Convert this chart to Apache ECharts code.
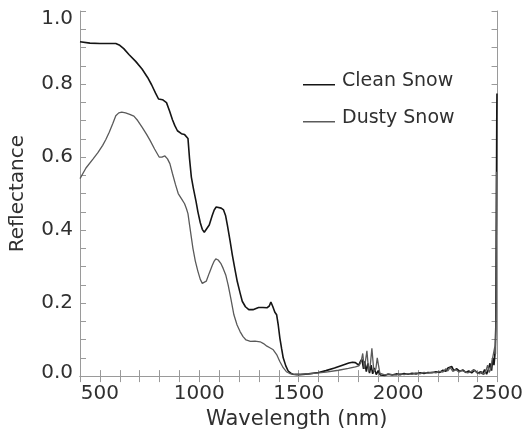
<!DOCTYPE html>
<html>
<head>
<meta charset="utf-8">
<script src="https://cdn.jsdelivr.net/npm/echarts@6/dist/echarts.min.js"></script>
<style>html,body{margin:0;padding:0;background:#fff;}#c{width:526px;height:435px;}</style>
</head>
<body>
<div id="c"></div>
<script>
var seriesNames = ['Clean Snow', 'Dusty Snow'];
var xTickLabels = [500, 1000, 1500, 2000, 2500];
var yTickLabels = [0.0, 0.2, 0.4, 0.6, 0.8, 1.0];

var cleanWl = [400,450,500,550,580,600,620,646,680,712,740,760,780,795,805,815,824,835,850,865,877,890,910,925,935,943,951,960,970,984,993,1005,1015,1025,1035,1050,1065,1075,1085,1095,1110,1122,1132,1141,1155,1166,1180,1191,1205,1216,1232,1249,1270,1298,1320,1340,1352,1360,1370,1380,1389,1397,1405,1414,1422,1435,1447,1460,1471,1490,1505,1550,1600,1637,1680,1720,1752,1770,1785,1795,1802,1810,1818,1826,1832,1840,1848,1856,1864,1872,1880,1890,1900,1910,1920,1935,1950,1970,1990,2010,2030,2050,2070,2090,2110,2130,2150,2170,2190,2210,2225,2240,2250,2260,2270,2280,2295,2310,2325,2340,2355,2370,2385,2400,2415,2425,2435,2445,2455,2462,2470,2476,2482,2487,2491,2494,2496,2497];
var cleanR = [0.916,0.912,0.911,0.911,0.911,0.906,0.897,0.881,0.862,0.841,0.818,0.798,0.775,0.759,0.754,0.757,0.759,0.749,0.727,0.702,0.686,0.672,0.664,0.662,0.665,0.651,0.595,0.545,0.515,0.477,0.450,0.420,0.402,0.394,0.398,0.414,0.440,0.455,0.463,0.464,0.460,0.455,0.440,0.414,0.370,0.332,0.290,0.259,0.228,0.205,0.190,0.182,0.182,0.188,0.188,0.187,0.192,0.203,0.190,0.175,0.168,0.140,0.105,0.075,0.050,0.028,0.014,0.008,0.005,0.004,0.004,0.006,0.010,0.015,0.022,0.030,0.036,0.038,0.037,0.032,0.030,0.040,0.046,0.020,0.040,0.012,0.035,0.008,0.030,0.006,0.022,0.004,0.015,0.003,0.007,0.002,0.005,0.003,0.006,0.004,0.007,0.005,0.008,0.006,0.009,0.007,0.010,0.009,0.012,0.010,0.016,0.013,0.022,0.017,0.026,0.015,0.020,0.013,0.017,0.010,0.014,0.009,0.016,0.008,0.012,0.006,0.018,0.005,0.020,0.035,0.015,0.050,0.030,0.060,0.130,0.450,0.700,0.774];

var dustyWl = [400,430,466,490,514,530,547,565,580,595,610,629,650,671,690,712,735,753,775,798,812,827,840,852,865,880,894,910,926,935,943,951,960,968,980,993,1005,1015,1023,1035,1050,1065,1075,1083,1095,1108,1120,1133,1145,1158,1174,1190,1205,1220,1235,1257,1280,1306,1323,1340,1357,1372,1389,1405,1422,1438,1455,1480,1505,1550,1600,1637,1700,1750,1785,1802,1810,1815,1822,1830,1836,1843,1852,1860,1868,1878,1888,1895,1901,1908,1918,1935,1950,1970,1990,2010,2030,2050,2070,2090,2110,2130,2150,2170,2190,2210,2225,2240,2250,2262,2275,2290,2305,2320,2335,2350,2365,2380,2395,2410,2420,2430,2440,2450,2458,2466,2472,2480,2486,2490,2493,2495];
var dustyR = [0.541,0.570,0.595,0.612,0.632,0.648,0.668,0.692,0.713,0.721,0.723,0.721,0.717,0.712,0.700,0.682,0.662,0.645,0.622,0.600,0.600,0.603,0.595,0.582,0.555,0.525,0.500,0.486,0.472,0.459,0.445,0.414,0.380,0.350,0.315,0.287,0.265,0.254,0.250,0.260,0.282,0.303,0.315,0.321,0.318,0.309,0.295,0.277,0.250,0.214,0.168,0.140,0.122,0.108,0.099,0.095,0.096,0.094,0.089,0.082,0.077,0.072,0.059,0.040,0.023,0.012,0.007,0.005,0.005,0.006,0.009,0.011,0.016,0.021,0.025,0.028,0.035,0.043,0.062,0.020,0.015,0.069,0.012,0.030,0.076,0.012,0.020,0.050,0.045,0.008,0.004,0.003,0.006,0.004,0.003,0.006,0.004,0.007,0.005,0.009,0.006,0.010,0.008,0.011,0.009,0.013,0.011,0.020,0.014,0.024,0.013,0.018,0.011,0.015,0.012,0.009,0.012,0.018,0.010,0.006,0.013,0.004,0.012,0.030,0.010,0.020,0.040,0.045,0.080,0.060,0.200,0.560];

function pairs(xs, ys) { return xs.map(function (x, i) { return [x, ys[i]]; }); }

var FONT = 'DejaVu Sans';
var WEIGHT = 'normal';
var axisColor = '#9a9a9a';
var textColor = '#303030';

function xAx(pos, show) {
  return {
    type: 'value', position: pos, min: 400, max: 2500, interval: 100,
    axisLine: { show: true, lineStyle: { color: axisColor, width: 1 } },
    axisTick: { show: true, inside: true, length: 6, lineStyle: { color: axisColor } },
    splitLine: { show: false },
    axisLabel: show ? {
      show: true, margin: 8, color: textColor, fontFamily: FONT, fontWeight: WEIGHT, fontSize: 20,
      formatter: function (v) { return xTickLabels.indexOf(Math.round(v)) >= 0 ? String(Math.round(v)) : ''; }
    } : { show: false },
    name: show ? 'Wavelength (nm)' : '', nameLocation: 'middle', nameGap: 31,
    nameTextStyle: { color: textColor, fontFamily: FONT, fontWeight: WEIGHT, fontSize: 21, padding: [0, 0, 0, 16] }
  };
}
function yAx(pos, show) {
  return {
    type: 'value', position: pos, min: 0, max: 1, interval: 0.05,
    axisLine: { show: true, lineStyle: { color: axisColor, width: 1 } },
    axisTick: { show: true, inside: true, length: 6, lineStyle: { color: axisColor } },
    splitLine: { show: false },
    axisLabel: show ? {
      show: true, margin: 7, color: textColor, fontFamily: FONT, fontWeight: WEIGHT, fontSize: 20,
      formatter: function (v) {
        var k = Math.round(v * 100);
        for (var i = 0; i < yTickLabels.length; i++) {
          if (Math.round(yTickLabels[i] * 100) === k) {
            var s = yTickLabels[i].toFixed(1);
            if (k === 100) return '{top|' + s + '}';
            if (k === 0) return '{bot|' + s + '}';
            return s;
          }
        }
        return '';
      },
      rich: {
        top: { color: textColor, fontFamily: FONT, fontWeight: WEIGHT, fontSize: 20, padding: [16, 0, 0, 0] },
        bot: { color: textColor, fontFamily: FONT, fontWeight: WEIGHT, fontSize: 20, padding: [0, 0, 6, 0] }
      }
    } : { show: false },
    name: show ? 'Reflectance' : '', nameLocation: 'middle', nameGap: 52,
    nameTextStyle: { color: textColor, fontFamily: FONT, fontWeight: WEIGHT, fontSize: 20 }
  };
}

var chart = echarts.init(document.getElementById('c'), null, { renderer: 'canvas' });
chart.setOption({
  animation: false,
  backgroundColor: '#ffffff',
  grid: { left: 77, right: 25, top: 11, bottom: 57, containLabel: false },
  xAxis: [xAx('bottom', true), xAx('top', false)],
  yAxis: [yAx('left', true), yAx('right', false)],
  legend: {
    orient: 'vertical', left: 298, top: 66, itemGap: 17,
    itemWidth: 32, itemHeight: 12,
    textStyle: { color: textColor, fontFamily: FONT, fontWeight: WEIGHT, fontSize: 19, lineHeight: 20, padding: [0, 0, 0, 2] },
    data: [
      { name: seriesNames[0], icon: 'path://M0,0L0.01,0M0,9L32,9L32,10.5L0,10.5M0,12L0.01,12Z' },
      { name: seriesNames[1], icon: 'path://M0,0L0.01,0M0,9L32,9L32,10.5L0,10.5M0,12L0.01,12Z' }
    ]
  },
  series: [
    { name: seriesNames[0], type: 'line', xAxisIndex: 0, yAxisIndex: 0, data: pairs(cleanWl, cleanR),
      showSymbol: false, symbol: 'none', smooth: false, lineStyle: { color: '#151515', width: 1.6 }, itemStyle: { color: '#151515' } },
    { name: seriesNames[1], type: 'line', xAxisIndex: 0, yAxisIndex: 0, data: pairs(dustyWl, dustyR),
      showSymbol: false, symbol: 'none', smooth: false, lineStyle: { color: '#5a5a5a', width: 1.3 }, itemStyle: { color: '#5a5a5a' } }
  ]
});
</script>
</body>
</html>
